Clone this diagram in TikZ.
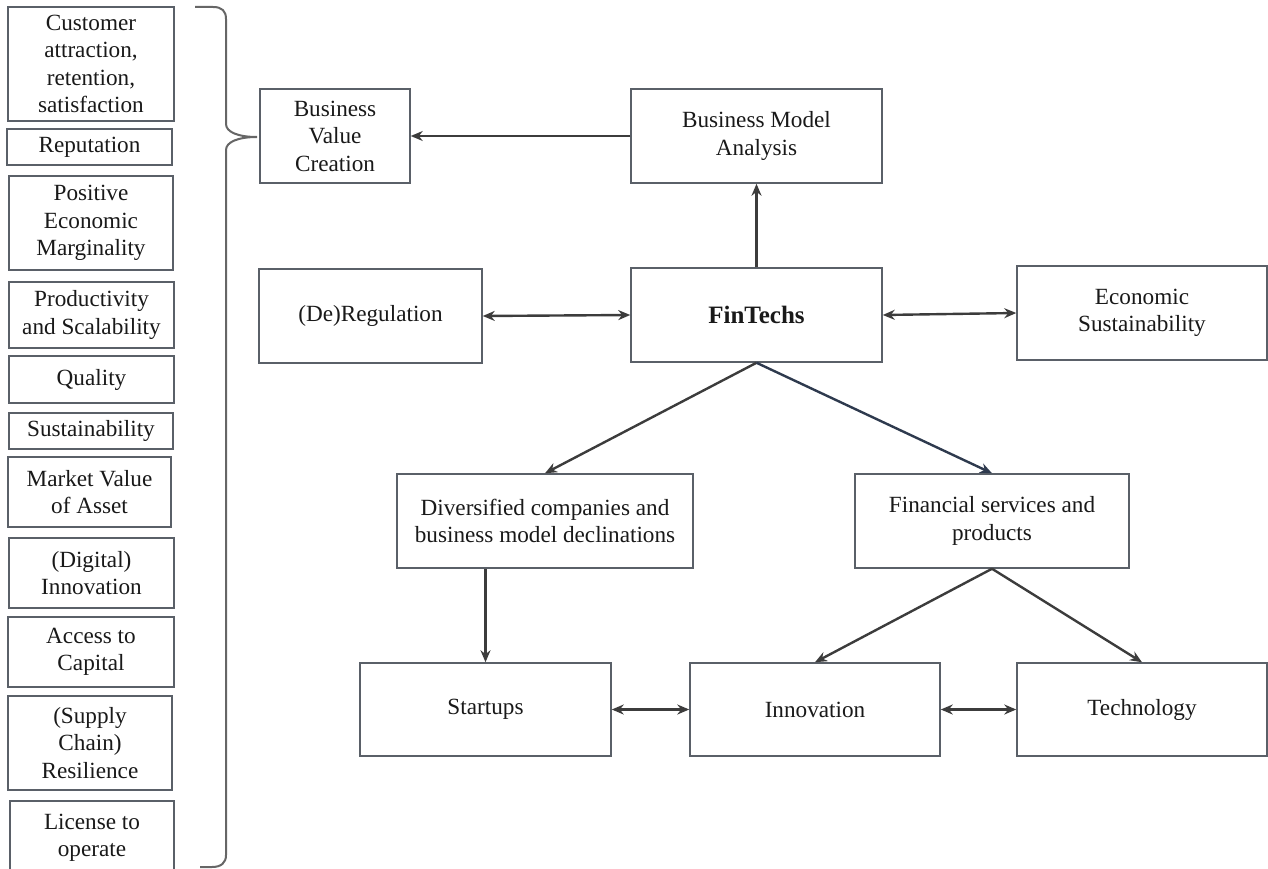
\documentclass[tikz,border=0pt]{standalone}
\usepackage{fontspec}
\setmainfont{Liberation Serif}
\usetikzlibrary{arrows.meta}
\definecolor{boxc}{HTML}{5A6068}
\definecolor{linec}{HTML}{3C3C3C}
\definecolor{bluec}{HTML}{2E3A4E}
\tikzset{
  box/.style={draw=boxc, line width=1.5pt, fill=white, inner sep=0pt, align=center,
    font=\fontsize{23.2}{27.5}\selectfont, text=black!90},
  conn/.style={draw=linec, line width=2.4pt, -{Stealth[length=12pt,width=10pt]}},
  dconn/.style={draw=linec, line width=2.4pt, {Stealth[length=12pt,width=10pt]}-{Stealth[length=12pt,width=10pt]}},
}
\begin{document}
\begin{tikzpicture}[x=1pt,y=-1pt]
\useasboundingbox (0,0) rectangle (1268,869);
\clip (0,0) rectangle (1268,869);
% left column
\node[box, minimum width=166pt, minimum height=114pt] (l1) at (91,64) {Customer\\attraction,\\retention,\\satisfaction};
\node[box, minimum width=165pt, minimum height=36pt] (l2) at (89.5,147) {Reputation};
\node[box, minimum width=164pt, minimum height=94pt] (l3) at (91,223) {Positive\\Economic\\Marginality};
\node[box, minimum width=165pt, minimum height=66pt] (l4) at (91.5,315) {Productivity\\and Scalability};
\node[box, minimum width=165pt, minimum height=47pt] (l5) at (91.5,379.5) {Quality};
\node[box, minimum width=164pt, minimum height=36pt] (l6) at (91,431) {Sustainability};
\node[box, minimum width=163pt, minimum height=70pt] (l7) at (89.5,492) {Market Value\\of Asset};
\node[box, minimum width=165pt, minimum height=70pt] (l8) at (91.5,573) {(Digital)\\Innovation};
\node[box, minimum width=166pt, minimum height=70pt] (l9) at (91,652) {Access to\\Capital};
\node[box, minimum width=164pt, minimum height=94pt] (l10) at (90,743) {(Supply\\Chain)\\Resilience};
\node[box, minimum width=164pt, minimum height=74pt] (l11) at (92,838) {License to\\operate};
% brace
\draw[draw=black!60, line width=2pt]
  (195,7) -- (213,7) .. controls (222,7) and (226,11) .. (226,19)
  -- (226,124) .. controls (226,132) and (238,137) .. (257,137)
  .. controls (238,137) and (226,142) .. (226,150)
  -- (226,855) .. controls (226,863) and (221,867) .. (212,867) -- (200,867);
% main boxes
\node[box, minimum width=150pt, minimum height=94pt] (bvc) at (335,136) {Business\\Value\\Creation};
\node[box, minimum width=251pt, minimum height=94pt] (bma) at (756.5,136) {Business Model\\Analysis};
\node[box, minimum width=223pt, minimum height=94pt] (dereg) at (370.5,316) {(De)Regulation};
\node[box, minimum width=251pt, minimum height=94pt, font=\fontsize{25}{29}\selectfont\bfseries] (fin) at (756.5,315) {FinTechs};
\node[box, minimum width=250pt, minimum height=94pt] (eco) at (1142,313) {Economic\\Sustainability};
\node[box, minimum width=296pt, minimum height=94pt] (div) at (545,521) {Diversified companies and\\business model declinations};
\node[box, minimum width=274pt, minimum height=94pt] (fsp) at (992,521) {Financial services and\\products};
\node[box, minimum width=251pt, minimum height=93pt] (start) at (485.5,709.5) {Startups};
\node[box, minimum width=250pt, minimum height=93pt] (inno) at (815,709.5) {Innovation};
\node[box, minimum width=250pt, minimum height=93pt] (tech) at (1142,709.5) {Technology};
% connectors
\draw[conn] (bma.west) -- (bvc.east);
\draw[conn] (fin.north) -- (bma.south);
\draw[dconn] (dereg.east) -- (fin.west);
\draw[dconn] (fin.east) -- (eco.west);
\draw[conn] (fin.south) -- (div.north);
\draw[conn, draw=bluec] (fin.south) -- (fsp.north);
\draw[conn] (start.north |- div.south) -- (start.north);
\draw[conn] (fsp.south) -- (inno.north);
\draw[conn] (fsp.south) -- (tech.north);
\draw[dconn] (start.east) -- (inno.west);
\draw[dconn] (inno.east) -- (tech.west);
\end{tikzpicture}
\end{document}
